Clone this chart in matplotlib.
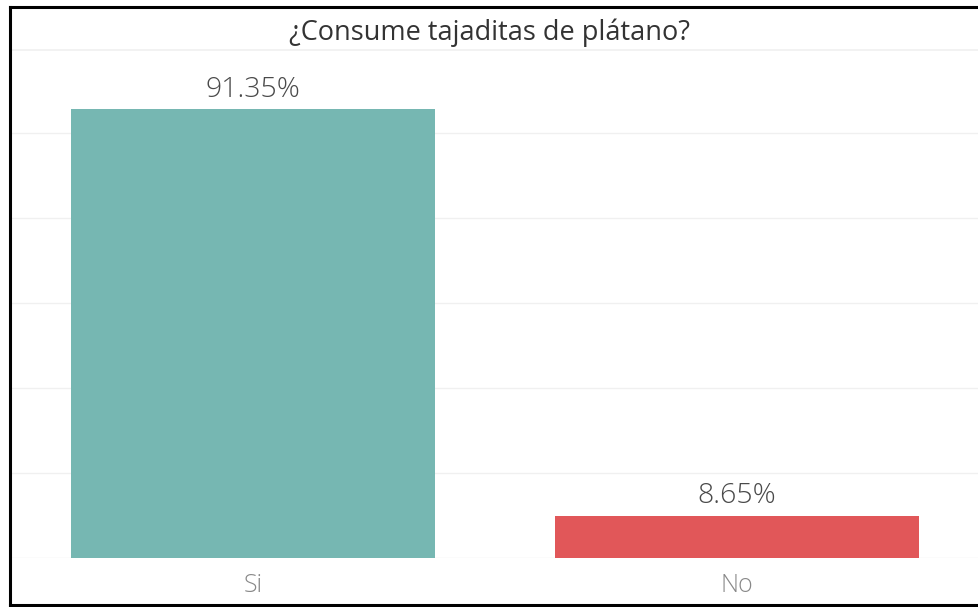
import matplotlib
matplotlib.use('Agg')
import matplotlib.pyplot as plt
from matplotlib.lines import Line2D

categories = ['Si', 'No']
values = [91.35, 8.65]
bar_colors = ['#76b7b2', '#e15759']
title = '¿Consume tajaditas de plátano?'

W, H = 979, 607
fig = plt.figure(figsize=(W / 100, H / 100), dpi=100)
fig.patch.set_facecolor('white')

# plot area in pixel terms: x 11..979, y 49..558 (from top)
ax = fig.add_axes([11 / W, (H - 558) / H, (W - 11) / W, (558 - 49) / H])
ax.bar(range(len(categories)), values, width=0.752, color=bar_colors, zorder=2)
ax.set_xlim(-0.5, 1.5)
ax.set_ylim(0, 103.6)

step = 17.3
for k in range(1, 6):
    ax.axhline(step * k, color='#f0f0f0', lw=1, zorder=1)
ax.axhline(103.4, color='#f0f0f0', lw=1.2, zorder=1)
ax.axhline(0, color='#ececec', lw=1, zorder=1)

for i, v in enumerate(values):
    ax.annotate(f'{v:.2f}%', (i, v), xytext=(0, 4), textcoords='offset points',
                ha='center', va='bottom', fontsize=20.5, color='#4a4a4a',
                family='Open Sans', fontweight='light')

ax.set_xticks(range(len(categories)))
ax.set_xticklabels(categories, fontsize=18, color='#888888', family='Open Sans',
                   fontweight='light')
ax.tick_params(axis='x', length=0, pad=11)
ax.set_yticks([])
for s in ax.spines.values():
    s.set_visible(False)

fig.text(490 / W, 1 - 33 / H, title, ha='center', va='center', fontsize=19.5,
         color='#333333', family='Open Sans')

# black frame around the view
fig.add_artist(Line2D([10 / W, 10 / W], [1 - 6.5 / H, 1 - 605 / H], color='black', lw=2.2,
                      transform=fig.transFigure))
fig.add_artist(Line2D([10 / W, 1], [1 - 6.5 / H, 1 - 6.5 / H], color='black', lw=2.2,
                      transform=fig.transFigure))
fig.add_artist(Line2D([10 / W, 1], [1 - 605 / H, 1 - 605 / H], color='black', lw=2.2,
                      transform=fig.transFigure))

fig.savefig('out.png', dpi=100)
